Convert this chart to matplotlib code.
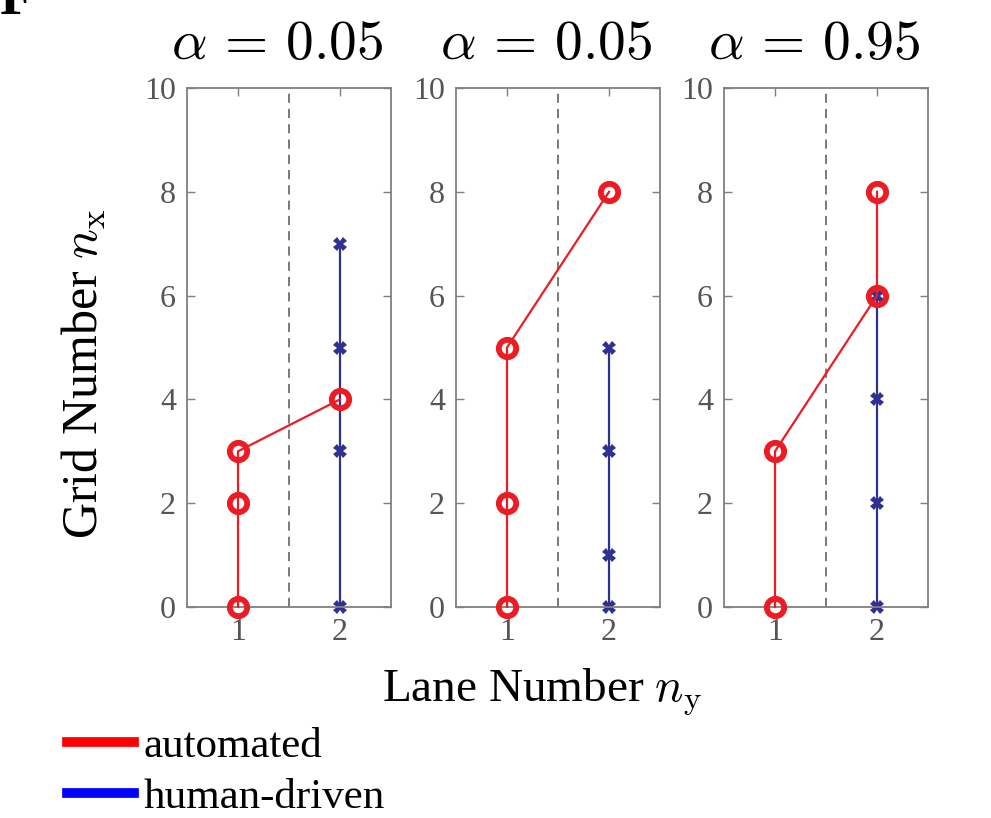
import matplotlib
matplotlib.use('Agg')
import matplotlib.pyplot as plt
from matplotlib.lines import Line2D

plt.rcParams['font.family'] = ['Liberation Serif', 'DejaVu Serif']
plt.rcParams['mathtext.fontset'] = 'cm'

titles = [r'$\alpha\,=\,0.05$', r'$\alpha\,=\,0.05$', r'$\alpha\,=\,0.95$']

# automated (red) vehicle positions per panel: lane, grid
auto_lane = [[1, 1, 1, 2], [1, 1, 1, 2], [1, 1, 2, 2]]
auto_grid = [[0, 2, 3, 4], [0, 2, 5, 8], [0, 3, 6, 8]]

# human-driven (blue) vehicle positions per panel
human_lane = [[2, 2, 2, 2], [2, 2, 2, 2], [2, 2, 2, 2]]
human_grid = [[0, 3, 5, 7], [0, 1, 3, 5], [0, 2, 4, 6]]

red = '#ed1c24'
blue = '#2e3192'
gray = '#7f7f7f'
tick_gray = '#555555'

fig = plt.figure(figsize=(9.91, 8.18), dpi=100)

lefts = [187, 456, 724]
W, H = 991, 818
for i in range(3):
    ax = fig.add_axes([lefts[i] / W, 1 - 607 / H, 204 / W, (607 - 88) / H])
    ax.axvline(1.5, color='#555555', ls=(0, (6, 4)), lw=1.1, zorder=1)
    ax.plot(human_lane[i], human_grid[i], color=blue, lw=1.6, marker='X',
            ms=10, mew=0, zorder=2, clip_on=False)
    ax.plot(auto_lane[i], auto_grid[i], color=red, lw=1.6, marker='o', ms=12.5,
            mew=4.2, mfc='none', mec=red, zorder=3, clip_on=False)
    ax.set_xlim(0.5, 2.5)
    ax.set_ylim(0, 10)
    ax.set_xticks([1, 2])
    ax.set_yticks([0, 2, 4, 6, 8, 10])
    ax.tick_params(direction='in', top=True, right=True, length=6, width=1,
                   colors=gray, labelcolor=tick_gray, labelsize=23, pad=8)
    for s in ax.spines.values():
        s.set_color(gray)
        s.set_linewidth(1.3)
    ax.set_title(titles[i], fontsize=40, pad=21, x=0.44)
    if i == 0:
        ax.set_ylabel(r'Grid Number $n_\mathrm{x}$', fontsize=36)
        ax.yaxis.set_label_coords(-0.385, 0.45)
    if i == 1:
        ax.set_xlabel(r'Lane Number $n_\mathrm{y}$', fontsize=34)
        ax.xaxis.set_label_coords(0.42, -0.115)

fig.text(0.0, 1.0, 'F', fontsize=40, fontweight='bold', ha='left', va='center')

handles = [Line2D([], [], color='#ff0000', lw=7),
           Line2D([], [], color='#0000ff', lw=7)]
fig.legend(handles, ['automated', 'human-driven'], loc='lower left',
           bbox_to_anchor=(0.037, -0.036), frameon=False, fontsize=31,
           handlelength=1.55, handletextpad=0.23, labelspacing=0.28,
           borderpad=0.2)

fig.savefig('out.png', dpi=100)
